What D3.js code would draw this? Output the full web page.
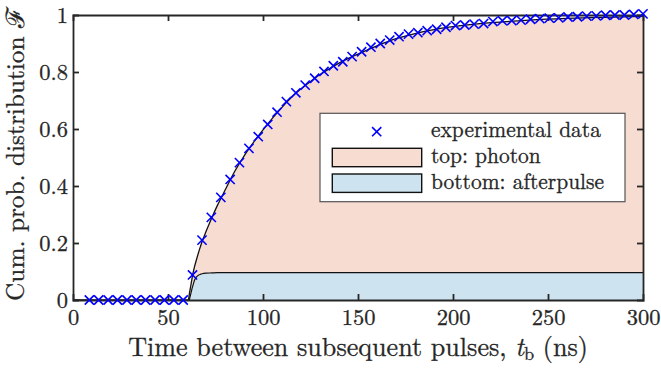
<!DOCTYPE html>
<html>
<head>
<meta charset="utf-8">
<script src="https://cdn.jsdelivr.net/npm/d3@7"></script>
<style>
  html, body { margin: 0; padding: 0; background: #fff; }
  svg { display: block; }
  text { font-family: "Latin Modern Roman", "Liberation Serif", serif; fill: #262626;
         stroke: #262626; stroke-width: 0.3px; }
</style>
</head>
<body>
<svg id="chart" width="661" height="369"></svg>
<script>
// Measured pulse-interval times (ns) and the cumulative distribution at each
const sampleTimes = [
  8.6, 13.5, 18.5, 23.4, 28.4, 33.3, 38.2, 43.2, 48.1, 53.1,
  58.0, 62.9, 67.9, 72.8, 77.8, 82.7, 87.6, 92.6, 97.5, 102.5,
  107.4, 112.3, 117.3, 122.2, 127.2, 132.1, 137.0, 142.0, 146.9, 151.9,
  156.8, 161.7, 166.7, 171.6, 176.6, 181.5, 186.4, 191.4, 196.3, 201.3,
  206.2, 211.1, 216.1, 221.0, 226.0, 230.9, 235.8, 240.8, 245.7, 250.7,
  255.6, 260.5, 265.5, 270.4, 275.4, 280.3, 285.2, 290.2, 295.1, 300.0
];
const sampleCdf = [
  0, 0, 0, 0, 0, 0, 0, 0, 0, 0,
  0, 0.088, 0.210, 0.290, 0.360, 0.423, 0.482, 0.532, 0.573, 0.616,
  0.659, 0.696, 0.727, 0.754, 0.778, 0.802, 0.822, 0.836, 0.854, 0.871,
  0.887, 0.900, 0.912, 0.924, 0.933, 0.938, 0.945, 0.950, 0.957, 0.963,
  0.965, 0.968, 0.970, 0.977, 0.980, 0.980, 0.982, 0.985, 0.987, 0.989,
  0.990, 0.993, 0.994, 0.996, 0.997, 0.999, 1.000, 1.000, 1.002, 1.004
];

// Fitted model: total cumulative distribution and its afterpulse part
const fitTimes = [
  0, 60.7, 61.2, 61.5, 62, 62.5, 63, 63.5, 64, 65, 66, 67, 68, 70, 73, 76,
  80, 85, 90, 95, 100, 105, 110, 115, 120, 125, 130, 135, 140, 150, 160,
  170, 180, 190, 200, 220, 240, 260, 280, 300
];
const fitTotal = [
  0, 0, 0.020, 0.032, 0.050, 0.070, 0.090, 0.104, 0.118, 0.142, 0.165, 0.186, 0.206, 0.240, 0.288, 0.332,
  0.385, 0.450, 0.505, 0.553, 0.597, 0.638, 0.676, 0.711, 0.741, 0.767, 0.791, 0.812, 0.831, 0.863, 0.892,
  0.917, 0.935, 0.949, 0.959, 0.973, 0.982, 0.988, 0.992, 0.995
];
const fitAfterpulse = [
  0, 0, 0, 0.008, 0.022, 0.036, 0.048, 0.060, 0.070, 0.081, 0.087, 0.090, 0.092, 0.094, 0.095, 0.096,
  0.096, 0.096, 0.096, 0.096, 0.096, 0.096, 0.096, 0.096, 0.096, 0.096, 0.096, 0.096, 0.096, 0.096, 0.096,
  0.096, 0.096, 0.096, 0.096, 0.096, 0.096, 0.096, 0.096, 0.096
];

const xTicks = [0, 50, 100, 150, 200, 250, 300];
const yTicks = [0, 0.2, 0.4, 0.6, 0.8, 1];
const yTickLabels = ["0", "0.2", "0.4", "0.6", "0.8", "1"];

const legendLabels = ["experimental data", "top: photon", "bottom: afterpulse"];

const colors = {
  photon: "#f6dcd1",
  afterpulse: "#cde3f0",
  marker: "#0000ff",
  axis: "#262626"
};

const serif = "'Latin Modern Roman', 'Liberation Serif', serif";

const svg = d3.select("#chart");
const plot = { left: 73, right: 643, top: 15, bottom: 300 };

const x = d3.scaleLinear().domain([0, 300]).range([plot.left, plot.right]);
const y = d3.scaleLinear().domain([0, 1]).range([plot.bottom, plot.top]);

const fit = fitTimes.map((t, i) => ({ t, total: fitTotal[i], after: fitAfterpulse[i] }));
const samples = sampleTimes.map((t, i) => ({ t, v: sampleCdf[i] }));

// Scale a text's font so that it spans the given width
function sizeToWidth(sel, width, base) {
  sel.style("font-size", base + "px");
  const w = sel.node().getComputedTextLength();
  sel.style("font-size", (base * width / w).toFixed(2) + "px");
  return sel;
}

// Filled components
const photonArea = d3.area()
  .x(d => x(d.t)).y0(d => y(d.after)).y1(d => y(d.total))
  .curve(d3.curveMonotoneX);
const afterArea = d3.area()
  .x(d => x(d.t)).y0(y(0)).y1(d => y(d.after))
  .curve(d3.curveMonotoneX);

const fitActive = fit.filter(d => d.t >= 60.7);

svg.append("path").datum(fitActive)
  .attr("d", photonArea).attr("fill", colors.photon);
svg.append("path").datum(fitActive)
  .attr("d", afterArea).attr("fill", colors.afterpulse);

// Boundary lines
const totalLine = d3.line().x(d => x(d.t)).y(d => y(d.total)).curve(d3.curveMonotoneX);
const afterLine = d3.line().x(d => x(d.t)).y(d => y(d.after)).curve(d3.curveMonotoneX);

svg.append("path").datum(fitActive.filter(d => d.t >= 61.2))
  .attr("d", afterLine).attr("fill", "none")
  .attr("stroke", "#111").attr("stroke-width", 1.2);
svg.append("path").datum(fit)
  .attr("d", totalLine).attr("fill", "none")
  .attr("stroke", "#111").attr("stroke-width", 1.3);

// Axes with inward ticks on all four sides
const tick = 6;
const gx = svg.append("g").attr("transform", `translate(0,${plot.bottom})`)
  .call(d3.axisBottom(x).tickValues(xTicks).tickSize(-tick).tickPadding(9).tickFormat(d3.format("d")));
const gxTop = svg.append("g").attr("transform", `translate(0,${plot.top})`)
  .call(d3.axisTop(x).tickValues(xTicks).tickSize(-tick).tickFormat(""));
const gy = svg.append("g").attr("transform", `translate(${plot.left},0)`)
  .call(d3.axisLeft(y).tickValues(yTicks).tickSize(-tick).tickPadding(5)
    .tickFormat((d, i) => yTickLabels[i]));
const gyRight = svg.append("g").attr("transform", `translate(${plot.right},0)`)
  .call(d3.axisRight(y).tickValues(yTicks).tickSize(-tick).tickFormat(""));

[gx, gxTop, gy, gyRight].forEach(g => {
  g.select(".domain").attr("stroke", colors.axis).attr("stroke-width", 1.8);
  g.selectAll(".tick line").attr("stroke", colors.axis).attr("stroke-width", 1.8);
  g.selectAll(".tick text")
    .attr("fill", colors.axis)
    .style("font-family", serif)
    .style("font-size", "22.5px");
});
gx.selectAll(".tick line").filter(d => d === 0 || d === 300).remove();
gxTop.selectAll(".tick line").filter(d => d === 0 || d === 300).remove();
gy.selectAll(".tick line").filter(d => d === 0 || d === 1).remove();
gyRight.selectAll(".tick line").filter(d => d === 0 || d === 1).remove();

// Experimental data markers
const cross = "M-4.6,-4.6L4.6,4.6M-4.6,4.6L4.6,-4.6";
svg.append("g").selectAll("path").data(samples).join("path")
  .attr("transform", d => `translate(${x(d.t)},${y(d.v)})`)
  .attr("d", cross).attr("fill", "none")
  .attr("stroke", colors.marker).attr("stroke-width", 1.6);

// Axis titles
const xTitle = svg.append("text")
  .attr("x", 358).attr("y", 356).attr("text-anchor", "middle")
  .style("font-family", serif);
xTitle.append("tspan").text("Time between subsequent pulses, ");
xTitle.append("tspan").attr("font-style", "italic").text("t");
xTitle.append("tspan").attr("dy", 4).attr("font-size", "0.7em").text("b");
xTitle.append("tspan").attr("dy", -4).text(" (ns)");
sizeToWidth(xTitle, 460, 24);

const yTitle = svg.append("text")
  .attr("transform", "translate(24,154) rotate(-90)")
  .attr("text-anchor", "middle")
  .style("font-family", serif);
yTitle.append("tspan").text("Cum. prob. distribution ");
yTitle.append("tspan").text("ℱ");
sizeToWidth(yTitle, 294, 24);

// Legend
const legend = svg.append("g");
legend.append("rect")
  .attr("x", 320).attr("y", 113.3).attr("width", 305).attr("height", 88.4)
  .attr("fill", "#fff").attr("stroke", "#555").attr("stroke-width", 1.2);
legend.append("path")
  .attr("transform", "translate(376.7,131.7)")
  .attr("d", cross).attr("fill", "none")
  .attr("stroke", colors.marker).attr("stroke-width", 1.6);
legend.append("rect")
  .attr("x", 332.3).attr("y", 148.3).attr("width", 89.4).attr("height", 18.4)
  .attr("fill", colors.photon).attr("stroke", "#111").attr("stroke-width", 1.4);
legend.append("rect")
  .attr("x", 332.3).attr("y", 174).attr("width", 89.4).attr("height", 18.4)
  .attr("fill", colors.afterpulse).attr("stroke", "#111").attr("stroke-width", 1.4);
const legendY = [137, 163, 189];
const legendText = legendLabels.map((label, i) =>
  legend.append("text")
    .attr("x", 431).attr("y", legendY[i])
    .style("font-family", serif)
    .text(label));
// All legend entries share the size that makes the first one span its width
sizeToWidth(legendText[0], 170, 19);
const legendSize = legendText[0].style("font-size");
legendText.forEach(t => t.style("font-size", legendSize));
</script>
</body>
</html>
